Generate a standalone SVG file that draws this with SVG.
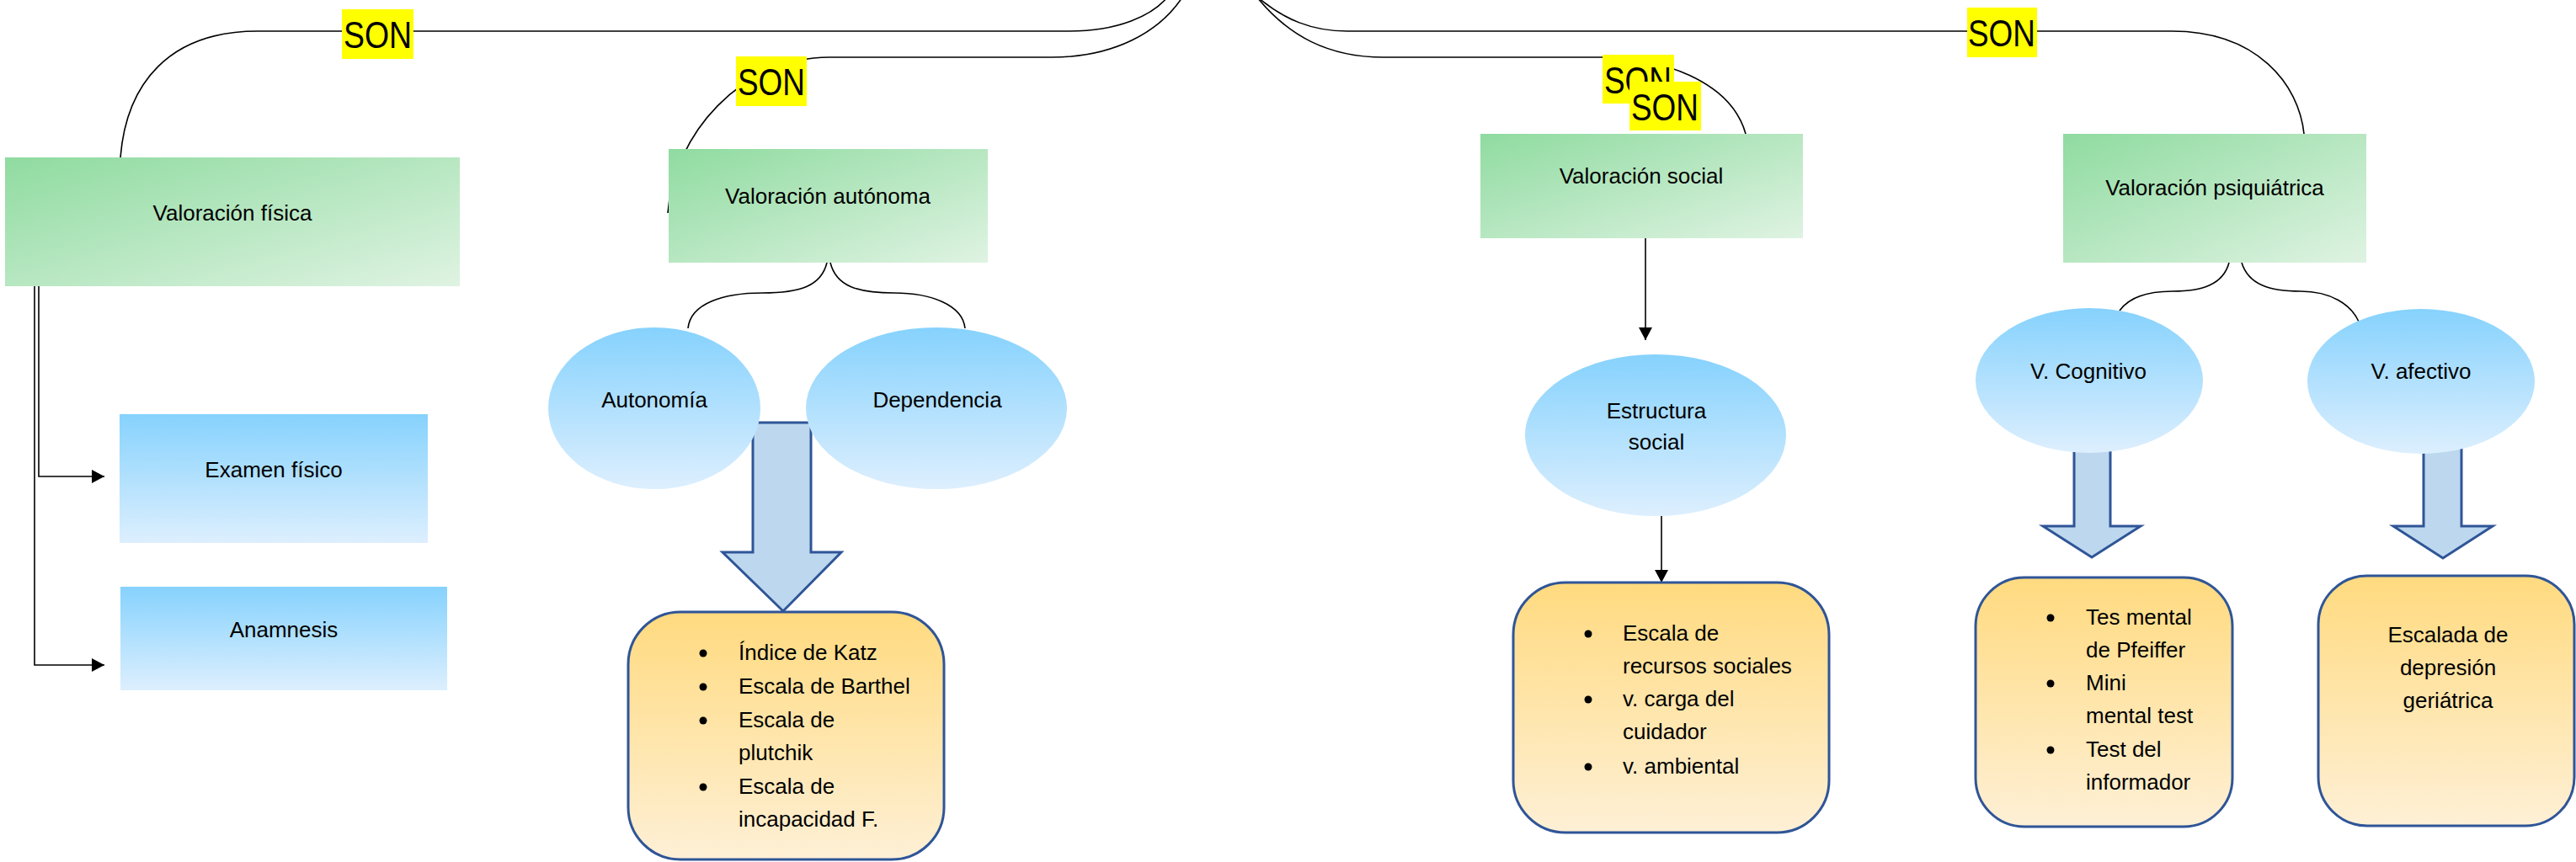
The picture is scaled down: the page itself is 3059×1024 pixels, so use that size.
<svg xmlns="http://www.w3.org/2000/svg" width="3059" height="1024" viewBox="0 0 3059 1024">
<defs>
<linearGradient id="gGreen" x1="0" y1="0" x2="1" y2="1">
<stop offset="0" stop-color="#8FDBA0"/>
<stop offset="1" stop-color="#DFF3E2"/>
</linearGradient>
<linearGradient id="gBlue" x1="0" y1="0" x2="0" y2="1">
<stop offset="0" stop-color="#86D2FD"/>
<stop offset="1" stop-color="#DDEFFE"/>
</linearGradient>
<linearGradient id="gYellow" x1="0" y1="0" x2="0" y2="1">
<stop offset="0" stop-color="#FFDA7F"/>
<stop offset="1" stop-color="#FEF0D6"/>
</linearGradient>
<marker id="arr" markerWidth="16" markerHeight="16" refX="15" refY="8" orient="auto" markerUnits="userSpaceOnUse">
<path d="M0,0 L15,8 L0,16 Z" fill="#000"/>
</marker>
</defs>
<style>
.t{font-family:"Liberation Sans",Arial,sans-serif;font-size:26px;fill:#000}
.c{text-anchor:middle}
.son{font-family:"Liberation Sans",Arial,sans-serif;font-size:44px;fill:#000}
.sonbg{fill:#FFFF00}
.ln{fill:none;stroke:#000;stroke-width:1.6}
.ar{fill:none;stroke:#000;stroke-width:1.6;marker-end:url(#arr)}
.green{fill:url(#gGreen)}
.blue{fill:url(#gBlue)}
.yel{fill:url(#gYellow);stroke:#2F5597;stroke-width:3}
.blk{fill:#BDD7EE;stroke:#2F5597;stroke-width:3}
</style>

<g id="connectors">
<path class="ln" d="M1390,-8 C1370,20 1325,37 1270,37 L306,37 C200,37 150,100 143,187"/>
<path class="ln" d="M1407,-8 C1378,40 1320,68 1249,68 L985,68 C880,68 800,160 793,253"/>
<path class="ln" d="M1488,-8 C1525,25 1560,37 1600,37 L2579,37 C2680,37 2730,100 2736,159"/>
<path class="ln" d="M1489,-8 C1530,45 1580,68 1643,68 L1903,68 C1970,68 2055,95 2073,159"/>
<path class="ar" d="M46,340 L46,566 L124,566"/>
<path class="ar" d="M41,340 L41,790 L124,790"/>
<path class="ln" d="M982,312 C975,340 950,348 905,348 C860,348 820,360 817,390"/>
<path class="ln" d="M986,312 C993,340 1018,348 1062,348 C1105,348 1143,362 1146,390"/>
<path class="ln" d="M2647,312 C2640,338 2615,346 2580,346 C2550,346 2528,354 2517,369"/>
<path class="ln" d="M2662,312 C2670,338 2695,346 2732,346 C2768,346 2792,362 2801,382"/>
<path class="ar" d="M1954,283 L1954,404"/>
<path class="ar" d="M1973,613 L1973,692"/>
</g>

<g id="block-arrows">
<path class="blk" d="M894,502 L963,502 L963,656 L999,656 L930,726 L858,656 L894,656 Z"/>
<path class="blk" d="M2463,520 L2506,520 L2506,625 L2542,625 L2484,662 L2426,625 L2463,625 Z"/>
<path class="blk" d="M2878,520 L2923,520 L2923,625 L2960,625 L2901,663 L2842,625 L2878,625 Z"/>
</g>

<g id="son-labels">
<g id="son1"><rect class="sonbg" x="406" y="11" width="85" height="59"/><text class="son" x="408" y="57" textLength="81" lengthAdjust="spacingAndGlyphs">SON</text></g>
<g id="son2"><rect class="sonbg" x="874" y="67" width="84" height="59"/><text class="son" x="876" y="113" textLength="80" lengthAdjust="spacingAndGlyphs">SON</text></g>
<g id="son3"><rect class="sonbg" x="2336" y="9" width="83" height="59"/><text class="son" x="2337" y="55" textLength="80" lengthAdjust="spacingAndGlyphs">SON</text></g>
<g id="son4"><rect class="sonbg" x="1903" y="65" width="85" height="58"/><text class="son" x="1905" y="111" textLength="80" lengthAdjust="spacingAndGlyphs">SON</text></g>
<g id="son5"><rect class="sonbg" x="1935" y="97" width="85" height="58"/><text class="son" x="1937" y="143" textLength="80" lengthAdjust="spacingAndGlyphs">SON</text></g>
</g>

<g id="valoracion-fisica"><rect class="green" x="6" y="187" width="540" height="153"/><text class="t c" x="276" y="262">Valoración física</text></g>
<g id="valoracion-autonoma"><rect class="green" x="794" y="177" width="379" height="135"/><text class="t c" x="983" y="242">Valoración autónoma</text></g>
<g id="valoracion-social"><rect class="green" x="1758" y="159" width="383" height="124"/><text class="t c" x="1949" y="218">Valoración social</text></g>
<g id="valoracion-psiquiatrica"><rect class="green" x="2450" y="159" width="360" height="153"/><text class="t c" x="2630" y="232">Valoración psiquiátrica</text></g>

<g id="examen-fisico"><rect class="blue" x="142" y="492" width="366" height="153"/><text class="t c" x="325" y="567">Examen físico</text></g>
<g id="anamnesis"><rect class="blue" x="143" y="697" width="388" height="123"/><text class="t c" x="337" y="757">Anamnesis</text></g>

<g id="autonomia"><ellipse class="blue" cx="777" cy="485" rx="126" ry="96"/><text class="t c" x="777" y="484">Autonomía</text></g>
<g id="dependencia"><ellipse class="blue" cx="1112" cy="485" rx="155" ry="96"/><text class="t c" x="1113" y="484">Dependencia</text></g>
<g id="estructura-social"><ellipse class="blue" cx="1966" cy="517" rx="155" ry="96"/><text class="t c" x="1967" y="497">Estructura</text><text class="t c" x="1967" y="534">social</text></g>
<g id="v-cognitivo"><ellipse class="blue" cx="2481" cy="452" rx="135" ry="86"/><text class="t c" x="2480" y="450">V. Cognitivo</text></g>
<g id="v-afectivo"><ellipse class="blue" cx="2875" cy="453" rx="135" ry="86"/><text class="t c" x="2875" y="450">V. afectivo</text></g>

<g id="escalas-autonomia">
<rect class="yel" x="746" y="727" width="375" height="294" rx="62" ry="62"/>
<circle cx="835" cy="776" r="4.5"/><text class="t" x="877" y="784">Índice de Katz</text>
<circle cx="835" cy="816" r="4.5"/><text class="t" x="877" y="824">Escala de Barthel</text>
<circle cx="835" cy="856" r="4.5"/><text class="t" x="877" y="864">Escala de</text>
<text class="t" x="877" y="903">plutchik</text>
<circle cx="835" cy="935" r="4.5"/><text class="t" x="877" y="943">Escala de</text>
<text class="t" x="877" y="982">incapacidad F.</text>
</g>

<g id="escalas-social">
<rect class="yel" x="1797" y="692" width="375" height="297" rx="62" ry="62"/>
<circle cx="1886" cy="753" r="4.5"/><text class="t" x="1927" y="761">Escala de</text>
<text class="t" x="1927" y="800">recursos sociales</text>
<circle cx="1886" cy="831" r="4.5"/><text class="t" x="1927" y="839">v. carga del</text>
<text class="t" x="1927" y="878">cuidador</text>
<circle cx="1886" cy="911" r="4.5"/><text class="t" x="1927" y="919">v. ambiental</text>
</g>

<g id="tests-cognitivo">
<rect class="yel" x="2346" y="686" width="305" height="296" rx="58" ry="58"/>
<circle cx="2435" cy="734" r="4.5"/><text class="t" x="2477" y="742">Tes mental</text>
<text class="t" x="2477" y="781">de Pfeiffer</text>
<circle cx="2435" cy="812" r="4.5"/><text class="t" x="2477" y="820">Mini</text>
<text class="t" x="2477" y="859">mental test</text>
<circle cx="2435" cy="891" r="4.5"/><text class="t" x="2477" y="899">Test del</text>
<text class="t" x="2477" y="938">informador</text>
</g>

<g id="escala-depresion">
<rect class="yel" x="2753" y="684" width="304" height="297" rx="58" ry="58"/>
<text class="t c" x="2907" y="763">Escalada de</text>
<text class="t c" x="2907" y="802">depresión</text>
<text class="t c" x="2907" y="841">geriátrica</text>
</g>
</svg>
